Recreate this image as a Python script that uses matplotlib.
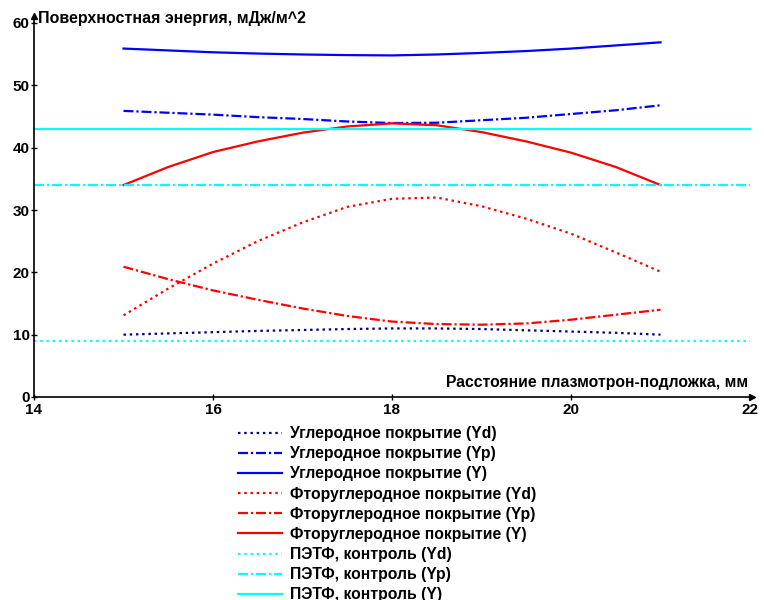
import matplotlib
matplotlib.use("Agg")
import matplotlib.pyplot as plt

plt.rcParams['font.family'] = ['Liberation Sans', 'DejaVu Sans']
plt.rcParams['font.weight'] = 'bold'

# distance plasmatron-substrate, mm
x = [15, 15.5, 16, 16.5, 17, 17.5, 18, 18.5, 19, 19.5, 20, 20.5, 21]

# carbon coating
carbon_yd = [10.0, 10.2, 10.4, 10.6, 10.75, 10.9, 11.0, 11.0, 10.9, 10.7, 10.5, 10.3, 10.0]
carbon_yp = [45.9, 45.6, 45.3, 44.9, 44.6, 44.2, 43.95, 44.0, 44.4, 44.8, 45.4, 46.0, 46.8]
carbon_y = [55.9, 55.6, 55.3, 55.1, 54.95, 54.85, 54.8, 54.95, 55.2, 55.5, 55.9, 56.4, 56.9]

# fluorocarbon coating
fluoro_yd = [13.1, 17.4, 21.4, 25.0, 28.0, 30.5, 31.8, 32.0, 30.6, 28.6, 26.2, 23.2, 20.1]
fluoro_yp = [20.9, 18.9, 17.1, 15.6, 14.2, 13.0, 12.1, 11.7, 11.6, 11.8, 12.4, 13.2, 14.0]
fluoro_y = [34.0, 36.9, 39.3, 41.0, 42.4, 43.4, 43.9, 43.6, 42.5, 41.0, 39.2, 36.9, 34.0]

# PET control (constant levels)
pet_x = [14, 22]
pet_yd = [9, 9]
pet_yp = [34, 34]
pet_y = [43, 43]

labels = [
    "Углеродное покрытие (Yd)",
    "Углеродное покрытие (Yp)",
    "Углеродное покрытие (Y)",
    "Фторуглеродное покрытие (Yd)",
    "Фторуглеродное покрытие (Yp)",
    "Фторуглеродное покрытие (Y)",
    "ПЭТФ, контроль (Yd)",
    "ПЭТФ, контроль (Yp)",
    "ПЭТФ, контроль (Y)",
]

xticks = [14, 16, 18, 20, 22]
yticks = [0, 10, 20, 30, 40, 50, 60]

DOT = (0, (1.1, 1.7))
DASHDOT = (0, (4.5, 1.3, 1.0, 1.3))
SOLID = '-'

fig = plt.figure(figsize=(7.64, 6.0), dpi=100)
ax = fig.add_axes([34 / 764, 1 - 397 / 600, 716 / 764, 374 / 600])

series = [
    (x, carbon_yd, '#000080', DOT),
    (x, carbon_yp, '#0000FF', DASHDOT),
    (x, carbon_y, '#0000FF', SOLID),
    (x, fluoro_yd, '#FF0000', DOT),
    (x, fluoro_yp, '#FF0000', DASHDOT),
    (x, fluoro_y, '#FF0000', SOLID),
    (pet_x, pet_yd, '#00FFFF', DOT),
    (pet_x, pet_yp, '#00FFFF', DASHDOT),
    (pet_x, pet_y, '#00FFFF', SOLID),
]

handles = []
for (xs, ys, c, ls), lab in zip(series, labels):
    h, = ax.plot(xs, ys, color=c, linestyle=ls, linewidth=1.6, label=lab,
                 clip_on=False, solid_joinstyle='round')
    handles.append(h)

ax.set_xlim(14, 22)
ax.set_ylim(0, 60)
ax.set_xticks(xticks)
ax.set_yticks(yticks)
ax.tick_params(axis='both', direction='inout', length=4, width=1,
               labelsize=11, pad=1)
ax.tick_params(axis='x', pad=2)
for lab in ax.get_xticklabels() + ax.get_yticklabels():
    lab.set_fontweight('bold')

for s in ('top', 'right'):
    ax.spines[s].set_visible(False)
for s in ('left', 'bottom'):
    ax.spines[s].set_linewidth(1.2)

# arrow heads on the axes
ax.plot(1.003, 0, marker='>', color='black', markersize=5,
        transform=ax.transAxes, clip_on=False)
ax.plot(0, 1.02, marker='^', color='black', markersize=5,
        transform=ax.transAxes, clip_on=False)
ax.plot([0, 0], [1.0, 1.02], color='black', lw=1.2,
        transform=ax.transAxes, clip_on=False)

ax.text(0.006, 1.012, "Поверхностная энергия, мДж/м^2", transform=ax.transAxes,
        ha='left', va='center', fontsize=11.5, fontweight='bold')
ax.text(0.997, 0.018, "Расстояние плазмотрон-подложка, мм",
        transform=ax.transAxes, ha='right', va='bottom', fontsize=11.3,
        fontweight='bold')

leg = fig.legend(handles=handles, loc='upper left',
                 bbox_to_anchor=(238 / 764, 1 - 426 / 600), frameon=False,
                 fontsize=11.3, handlelength=2.8, handletextpad=0.5,
                 labelspacing=0.33, borderaxespad=0, borderpad=0)
for t in leg.get_texts():
    t.set_fontweight('bold')

fig.savefig("out.png", dpi=100)
